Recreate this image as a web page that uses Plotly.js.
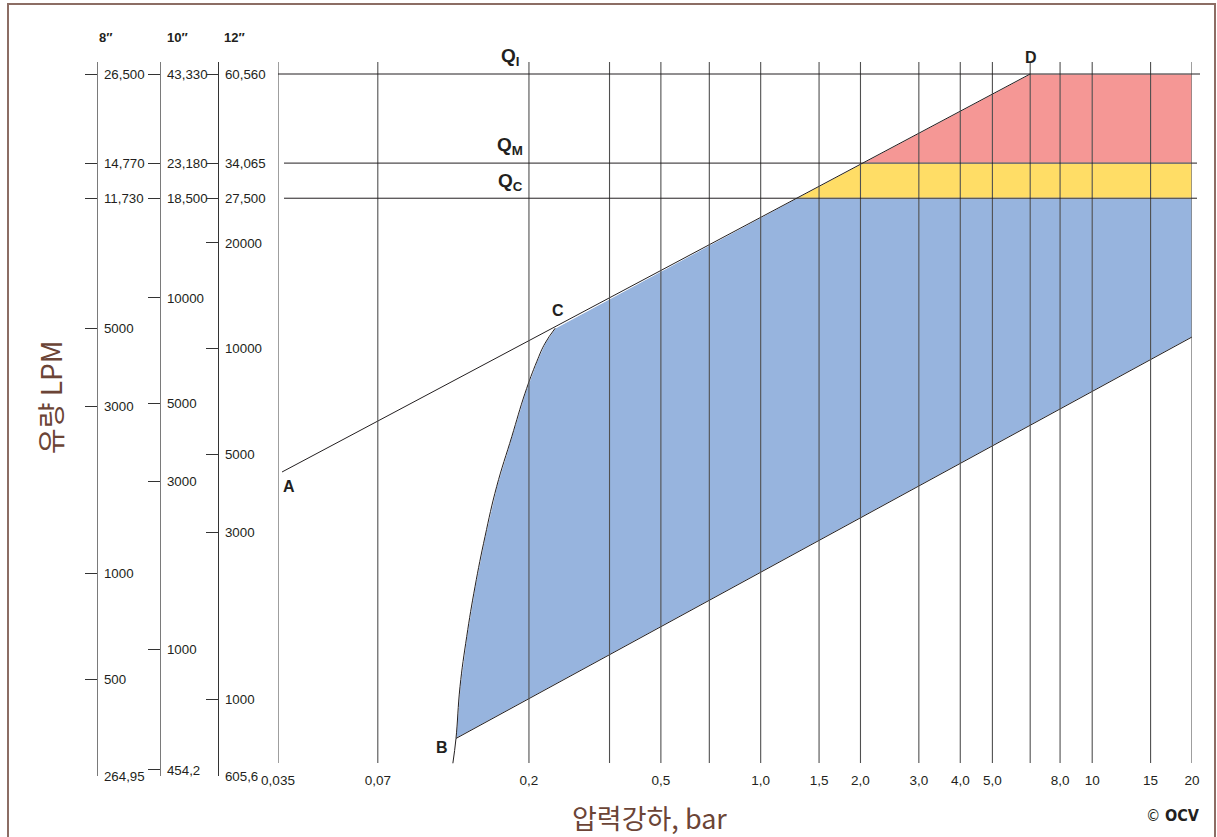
<!DOCTYPE html>
<html>
<head>
<meta charset="utf-8">
<script src="https://cdn.plot.ly/plotly-3.0.1.min.js"></script>
<style>html,body{margin:0;padding:0;background:#fff;}#chart{width:1217px;height:837px;}</style>
</head>
<body>
<div id="chart"></div>
<script>
// ---- data (pressure drop in bar, flow in LPM on the 8" scale) ----
const xTickVals = [0.035, 0.07, 0.2, 0.5, 1, 1.5, 2, 3, 4, 5, 8, 10, 15, 20];
const xTickText = ['0,035', '0,07', '0,2', '0,5', '1,0', '1,5', '2,0', '3,0', '4,0', '5,0', '8,0', '10', '15', '20'];
const xGridVals = [0.035, 0.07, 0.2, 0.35, 0.5, 0.7, 1, 1.5, 2, 3, 4, 5, 6.5, 8, 10, 15, 20];

// 8" scale (main axis)
const y8Vals = [264.95, 500, 1000, 3000, 5000];
const y8Text = ['264,95', '500', '1000', '3000', '5000'];
// 10" scale
const y10Vals = [454.2, 1000, 3000, 5000, 10000];
const y10Text = ['454,2', '1000', '3000', '5000', '10000'];
// 12" scale
const y12Vals = [605.6, 1000, 3000, 5000, 10000, 20000];
const y12Text = ['605,6', '1000', '3000', '5000', '10000', '20000'];

// Q levels (QI, QM, QC) for each size
const qNames = ['I', 'M', 'C'];
const q8 = [26500, 14770, 11730];
const q8Text = ['26,500', '14,770', '11,730'];
const q10Text = ['43,330', '23,180', '18,500'];
const q12 = [60560, 34065, 27500];
const q12Text = ['60,560', '34,065', '27,500'];

const pointA = [0.036, 1947];
const pointD = [6.5, 26500];
const pointB = [0.1205, 339];
const pointE = [20, 4720];
const pointC = [0.24, 5000];
const curveX = [0.1179, 0.1205, 0.1239, 0.1298, 0.1375, 0.1474, 0.1598, 0.1775, 0.1946, 0.2111, 0.2236, 0.24];
const curveY = [288, 339, 476, 661, 917, 1274, 1768, 2454, 3263, 4014, 4528, 5000];
const xMax = 20;

// ---- geometry helpers ----
const L = Math.log10;
const QI = q8[0], QM = q8[1], QC = q8[2];
function onUpperLine(q) {
  const t = (L(q) - L(pointA[1])) / (L(pointD[1]) - L(pointA[1]));
  return Math.pow(10, L(pointA[0]) + t * (L(pointD[0]) - L(pointA[0])));
}
const xQC = onUpperLine(QC);
const xQM = onUpperLine(QM);

// page layout in pixels
const W = 1217, H = 837;
const plotTop = 62, plotBot = 776;
const PH = plotBot - plotTop;
const px = v => v / W;
const py = v => (plotBot - v) / PH;
const dec = 351; // pixels per decade

const r8 = [L(264.95), L(26500) + 12 / dec];
const r10 = [L(454.2) - 6 / dec, L(43330) + 12 / dec];
const r12 = [L(605.6), L(60560) + 12 / dec];
// Q-level ticks of the 10" and 12" scales are drawn on the Q lines (as in the reference)
function onQLine(q, r) {
  const f = (L(q) - r8[0]) / (r8[1] - r8[0]);
  return Math.pow(10, r[0] + f * (r[1] - r[0]));
}

const blue = '#97b4de', yellow = '#ffdd66', red = '#f59795';

const traces = [];
const bX = [pointB[0]].concat(curveX.slice(2), [xQC, xMax, pointE[0], pointB[0]]);
const bY = [pointB[1]].concat(curveY.slice(2), [QC, QC, pointE[1], pointB[1]]);
traces.push({x: bX, y: bY, mode: 'lines', fill: 'toself', fillcolor: blue, line: {color: '#ffffff', width: 1}, hoverinfo: 'skip'});
traces.push({x: [xQC, xQM, xMax, xMax, xQC], y: [QC, QM, QM, QC, QC],
  mode: 'lines', fill: 'toself', fillcolor: yellow, line: {color: '#ffffff', width: 1}, hoverinfo: 'skip'});
traces.push({x: [xQM, pointD[0], xMax, xMax, xQM], y: [QM, pointD[1], pointD[1], QM, QM],
  mode: 'lines', fill: 'toself', fillcolor: red, line: {color: '#ffffff', width: 1}, hoverinfo: 'skip'});
traces.push({x: [pointA[0], pointD[0]], y: [pointA[1], pointD[1]], mode: 'lines', line: {color: '#231f20', width: 1}, hoverinfo: 'skip'});
traces.push({x: [pointB[0], pointE[0]], y: [pointB[1], pointE[1]], mode: 'lines', line: {color: '#231f20', width: 1}, hoverinfo: 'skip'});
traces.push({x: curveX, y: curveY, mode: 'lines', line: {color: '#231f20', width: 1, shape: 'spline', smoothing: 1.2}, hoverinfo: 'skip'});

const shapes = [];
shapes.push({type: 'rect', xref: 'paper', yref: 'paper', x0: px(8), x1: px(1215), y0: py(850), y1: py(4),
  line: {color: '#8c6d64', width: 2}, layer: 'below'});
xGridVals.forEach(v => {
  shapes.push({type: 'line', xref: 'x', yref: 'paper', x0: v, x1: v, y0: py(763), y1: 1,
    line: {color: '#505050', width: 1.1}, layer: 'above'});
});
shapes.push({type: 'line', xref: 'paper', yref: 'y', x0: px(278), x1: px(1200), y0: QI, y1: QI, line: {color: '#231f20', width: 1}, layer: 'above'});
shapes.push({type: 'line', xref: 'paper', yref: 'y', x0: px(284), x1: px(1197), y0: QM, y1: QM, line: {color: '#231f20', width: 1}, layer: 'above'});
shapes.push({type: 'line', xref: 'paper', yref: 'y', x0: px(284), x1: px(1197), y0: QC, y1: QC, line: {color: '#231f20', width: 1}, layer: 'above'});

const txt = '#231f20';
const brown = '#6b4436';
const FONT = 'Liberation Sans, Arial, sans-serif';
const annotations = [];
function pt(p, label, dx, dy) {
  annotations.push({x: L(p[0]), y: L(p[1]), xref: 'x', yref: 'y', text: '<b>' + label + '</b>', showarrow: false,
    xanchor: 'center', yanchor: 'middle', xshift: dx, yshift: dy, font: {size: 16, color: txt, family: FONT}});
}
pt(pointA, 'A', 7, -15);
pt(pointB, 'B', -14, -9);
pt(pointC, 'C', 3, 18);
pt(pointD, 'D', 1, 17);
[17, 17, 16].forEach((dy, i) => {
  annotations.push({x: px(510), xref: 'paper', y: L(q8[i]), yref: 'y', text: '<b>Q<sub>' + qNames[i] + '</sub></b>', showarrow: false,
    xanchor: 'center', yanchor: 'middle', yshift: dy, font: {size: 19, color: txt, family: FONT}});
});
[['8″', 105], ['10″', 177], ['12″', 234]].forEach(h => {
  annotations.push({x: px(h[1]), y: py(38), xref: 'paper', yref: 'paper', text: '<b>' + h[0] + '</b>', showarrow: false,
    xanchor: 'center', yanchor: 'middle', font: {size: 13, color: txt, family: FONT}});
});
annotations.push({x: px(50), y: py(398), xref: 'paper', yref: 'paper', text: '유량 LPM', textangle: -90, showarrow: false,
  xanchor: 'center', yanchor: 'middle', font: {size: 28, color: brown, family: 'Noto Sans CJK KR, sans-serif'}});
annotations.push({x: px(649), y: py(817), xref: 'paper', yref: 'paper', text: '압력강하, bar', showarrow: false,
  xanchor: 'center', yanchor: 'middle', font: {size: 27, color: brown, family: 'Noto Sans CJK KR, sans-serif'}});
annotations.push({x: px(1173), y: py(815), xref: 'paper', yref: 'paper',
  text: '<span style="font-weight:normal">©</span> <b>OCV</b>', showarrow: false,
  xanchor: 'center', yanchor: 'middle',
  font: {size: 16, color: txt, family: 'DejaVu Sans Condensed, DejaVu Sans, sans-serif'}});

function yAx(vals, text, pos, lineColor, extra) {
  return Object.assign({
    type: 'log', anchor: 'free', position: pos, side: 'right',
    tickvals: vals, ticktext: text, ticks: 'inside', ticklen: 12, tickcolor: '#333333', tickwidth: 1,
    ticklabelstandoff: 3,
    showline: true, linecolor: lineColor, linewidth: 1.3,
    showgrid: false, zeroline: false, fixedrange: true,
    tickfont: {size: 13.3, color: txt, family: FONT}
  }, extra);
}
const layout = {
  width: W, height: H,
  margin: {l: 0, r: 0, t: plotTop, b: H - plotBot, pad: 0},
  paper_bgcolor: '#ffffff', plot_bgcolor: 'rgba(0,0,0,0)',
  showlegend: false, hovermode: false,
  font: {family: FONT, color: txt},
  xaxis: {type: 'log', domain: [px(278), px(1192)], range: [L(0.035), L(20)],
    tickvals: xTickVals, ticktext: xTickText, ticks: '', showgrid: false, showline: false, zeroline: false,
    anchor: 'free', position: py(770), fixedrange: true,
    tickfont: {size: 13.5, color: txt}},
  yaxis: yAx(y8Vals.concat(q8), y8Text.concat(q8Text), px(97), '#7a7a7a', {range: r8}),
  yaxis2: yAx(y10Vals.concat(q8.map(q => onQLine(q, r10))), y10Text.concat(q10Text), px(160), '#7a7a7a',
    {overlaying: 'y', range: r10}),
  yaxis3: yAx(y12Vals.concat([q12[0]], q8.slice(1).map(q => onQLine(q, r12))), y12Text.concat(q12Text), px(218), '#333333',
    {overlaying: 'y', range: r12}),
  shapes: shapes,
  annotations: annotations
};
traces.push({x: [1], y: [1000], yaxis: 'y2', mode: 'markers', marker: {opacity: 0}, hoverinfo: 'skip'});
traces.push({x: [1], y: [1000], yaxis: 'y3', mode: 'markers', marker: {opacity: 0}, hoverinfo: 'skip'});

Plotly.newPlot('chart', traces, layout, {staticPlot: true, displayModeBar: false});
</script>
</body>
</html>
